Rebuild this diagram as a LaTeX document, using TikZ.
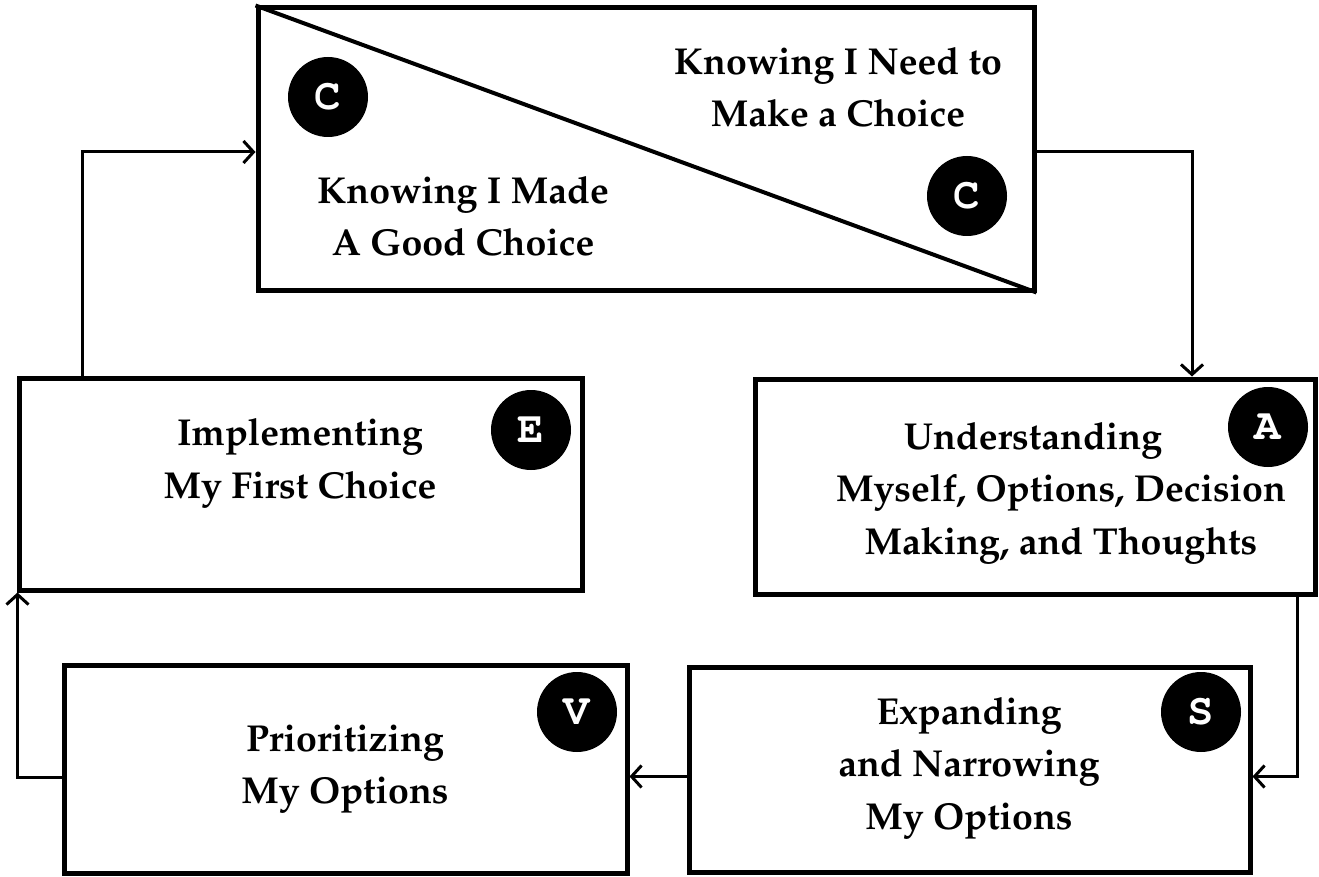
\documentclass[tikz,border=0pt]{standalone}
\usepackage[T1]{fontenc}
\usetikzlibrary{arrows.meta,calc}
\begin{document}
\begin{tikzpicture}[x=1pt,y=-1pt,
  box/.style={draw,line width=5pt,rectangle,inner sep=0pt},
  lbl/.style={align=center,font=\fontfamily{ppl}\bfseries\fontsize{37.5}{52.5}\selectfont},
  badge/.style={circle,fill=black,text=white,minimum size=80pt,inner sep=0pt,font=\fontfamily{pcr}\bfseries\fontsize{44}{44}\selectfont},
  conn/.style={line width=3pt,-{Straight Barb[length=10pt,width=22pt,line width=3pt]}}]
\useasboundingbox (0,0) rectangle (1319,877);
% boxes
\node[box,minimum width=776pt,minimum height=282pt] (top) at (646,149) {};
\node[box,minimum width=563pt,minimum height=212pt] (E) at (300.5,484) {};
\node[box,minimum width=560pt,minimum height=215pt] (A) at (1035,486.5) {};
\node[box,minimum width=561pt,minimum height=205pt] (S) at (969.5,769.5) {};
\node[box,minimum width=563pt,minimum height=208pt] (V) at (345.5,769) {};
\draw[line width=4pt] (top.north west) -- (top.south east);
% labels
\node[lbl] (t1) at (838,87) {Knowing I Need to\\Make a Choice};
\node[lbl] (t2) at (463,216) {Knowing I Made\\A Good Choice};
\node[lbl] (tE) at (300,463) {Implementing\\My First Choice};
\node[lbl] (tA) at (1061,493) {Understanding\hspace*{56pt}\\Myself, Options, Decision\\Making, and Thoughts};
\node[lbl] (tS) at (969,768) {Expanding\\and Narrowing\\My Options};
\node[lbl] (tV) at (345,769) {Prioritizing\\My Options};
% badges
\node[badge] (bC1) at (328,97) {C};
\node[badge] (bC2) at (967,196) {C};
\node[badge] (bE) at (531,430) {E};
\node[badge] (bA) at (1268,427) {A};
\node[badge] (bV) at (577,712) {V};
\node[badge] (bS) at (1201,712) {S};
% connectors
\draw[conn] ([yshift=-3pt]top.east) -| ([xshift=157pt]A.north);
\draw[conn] ([xshift=262pt]A.south) |- ([yshift=-7pt]S.east);
\draw[conn] ([yshift=-7pt]S.west) -- ([yshift=-7pt]S.west -| V.east);
\draw[conn] ([yshift=-8pt]V.west) -| ([xshift=1pt]E.south west);
\draw[conn] ([xshift=-218.5pt]E.north) |- ([yshift=-3pt]top.west);
\end{tikzpicture}
\end{document}
